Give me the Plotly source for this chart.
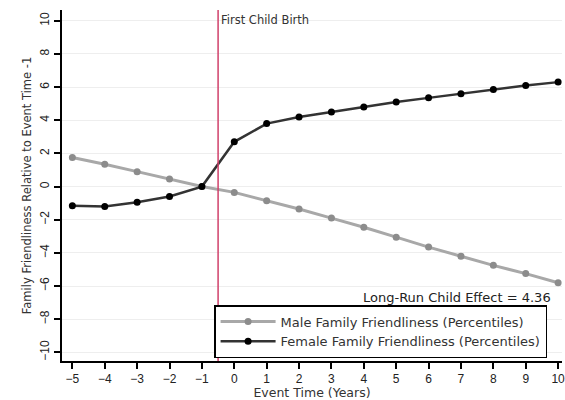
import plotly.graph_objects as go

event_time = [-5, -4, -3, -2, -1, 0, 1, 2, 3, 4, 5, 6, 7, 8, 9, 10]
male = [1.75, 1.35, 0.9, 0.45, 0.0, -0.35, -0.85, -1.35, -1.9, -2.45, -3.05, -3.65, -4.2, -4.75, -5.25, -5.8]
female = [-1.15, -1.2, -0.95, -0.6, 0.0, 2.7, 3.8, 4.2, 4.5, 4.8, 5.1, 5.35, 5.6, 5.85, 6.1, 6.3]
x_ticks = list(range(-5, 11))
y_ticks = list(range(-10, 11, 2))
birth_line = -0.5
effect_text = "Long-Run Child Effect = 4.36"
effect_y = -6.7

TICKFONT = "Liberation Sans, Arial, sans-serif"
FONT = "DejaVu Sans, sans-serif"

plot_left, plot_right = 62, 565

fig = go.Figure()
fig.add_trace(go.Scatter(
    x=event_time, y=male, mode="lines+markers",
    name="Male Family Friendliness (Percentiles)",
    line=dict(color="#a8a8a8", width=3),
    marker=dict(color="#8c8c8c", size=7),
))
fig.add_trace(go.Scatter(
    x=event_time, y=female, mode="lines+markers",
    name="Female Family Friendliness (Percentiles)",
    line=dict(color="#333333", width=2.5),
    marker=dict(color="#000000", size=7),
))

fig.add_shape(type="line", x0=birth_line, x1=birth_line, y0=0, y1=1,
              xref="x", yref="paper", line=dict(color="#d0406a", width=1.5))
fig.add_annotation(x=birth_line, y=1, xref="x", yref="paper", text="First Child Birth",
                   showarrow=False, xanchor="left", yanchor="top", xshift=1, yshift=-1,
                   font=dict(family=FONT, size=11.5, color="#333"))
fig.add_annotation(x=(556 - plot_left) / (plot_right - plot_left), y=effect_y,
                   xref="paper", yref="y", text=effect_text,
                   showarrow=False, xanchor="right", yanchor="middle",
                   font=dict(family=FONT, size=13, color="#222"))

fig.update_layout(
    width=565, height=400,
    margin=dict(l=plot_left, r=0, t=10, b=39),
    plot_bgcolor="white", paper_bgcolor="white",
    font=dict(family=FONT, size=11, color="#333"),
    showlegend=True,
    legend=dict(
        x=(215 - plot_left) / (plot_right - plot_left), y=0.0085,
        xanchor="left", yanchor="bottom",
        bordercolor="black", borderwidth=1.5, bgcolor="white",
        font=dict(family=FONT, size=13, color="#333"),
        itemwidth=55, tracegroupgap=0,
    ),
    xaxis=dict(
        range=[-5.32, 10.12], tickmode="array", tickvals=x_ticks,
        ticks="outside", ticklen=6, tickcolor="black", tickwidth=1.5,
        showline=True, linecolor="black", linewidth=1.5,
        showgrid=False, zeroline=False, ticklabeloverflow="allow",
        title=dict(text="Event Time (Years)", font=dict(family=FONT, size=12.5), standoff=3),
        tickfont=dict(family=TICKFONT, size=12, color="#222"),
    ),
    yaxis=dict(
        range=[-10.52, 10.65], tickmode="array", tickvals=y_ticks,
        ticks="outside", ticklen=6, tickcolor="black", tickwidth=1.5, tickangle=-90,
        showline=True, linecolor="black", linewidth=1.5,
        showgrid=True, gridcolor="#eeeeee", zeroline=False,
        title=dict(text="Family Friendliness Relative to Event Time -1",
                   font=dict(family=FONT, size=11.5), standoff=4),
        tickfont=dict(family=TICKFONT, size=12, color="#222"),
    ),
)

fig.write_html("out.html")
